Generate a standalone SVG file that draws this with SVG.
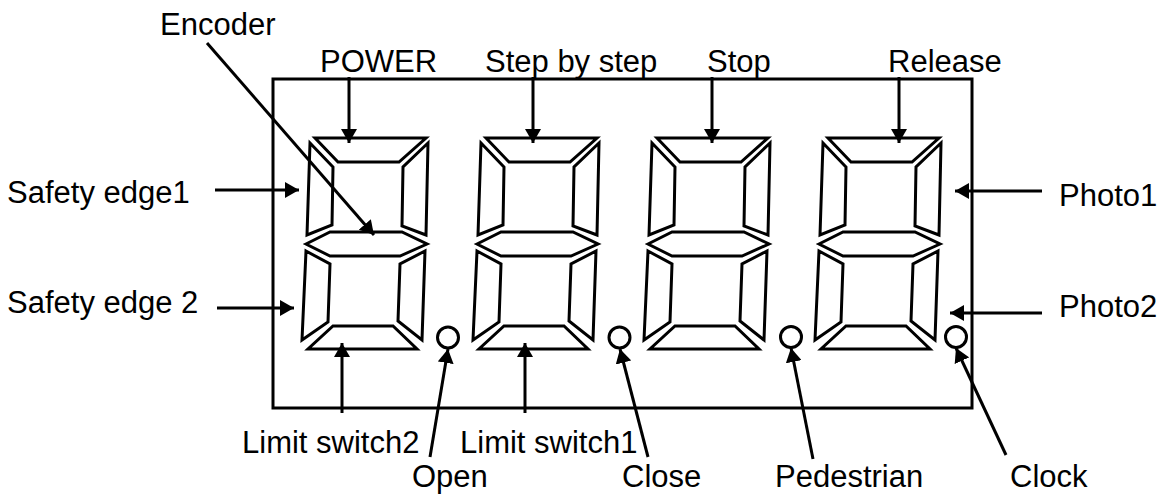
<svg xmlns="http://www.w3.org/2000/svg" xmlns:xlink="http://www.w3.org/1999/xlink" width="1164" height="494" viewBox="0 0 1164 494">
<style>
.seg{fill:none;stroke:#000;stroke-width:3;stroke-linejoin:miter;stroke-miterlimit:10}
.frame{fill:none;stroke:#000;stroke-width:3}
.dot{fill:none;stroke:#000;stroke-width:3}
.con{fill:none;stroke:#000;stroke-width:3;marker-end:url(#ah)}
.lbl{font-family:"Liberation Sans",Arial,sans-serif;font-size:31px;fill:#000}
</style>
<defs>
<marker id="ah" markerUnits="userSpaceOnUse" viewBox="0 0 14 16" markerWidth="14" markerHeight="16" refX="14" refY="8" orient="auto">
<path d="M0,0 L14,8 L0,16 Z" fill="#000"/>
</marker>
<g id="digit">
<polygon class="seg" points="315,138 426,138 399,162 338,162"/>
<polygon class="seg" points="310,143 333,167 332,225 307,235"/>
<polygon class="seg" points="428,143 426,235 402,226 403,167"/>
<polygon class="seg" points="306,244 330,232 402,232 427,244 400,256 330,256"/>
<polygon class="seg" points="306,251 330,264 328,322 302,340"/>
<polygon class="seg" points="425,251 422,340 398,321 400,264"/>
<polygon class="seg" points="308,349 417,349 393,326 333,326"/>
</g>
</defs>
<rect fill="#fff" x="0" y="0" width="1164" height="494"/>
<g id="frame"><rect class="frame" x="273" y="79" width="699" height="329"/></g>
<g id="digit1"><use xlink:href="#digit"/></g>
<g id="digit2"><use xlink:href="#digit" transform="translate(171,0)"/></g>
<g id="digit3"><use xlink:href="#digit" transform="translate(342,0)"/></g>
<g id="digit4"><use xlink:href="#digit" transform="translate(513,0)"/></g>
<g id="dot-open"><circle class="dot" cx="448" cy="337.5" r="10.5"/></g>
<g id="dot-close"><circle class="dot" cx="619.5" cy="337.5" r="10.5"/></g>
<g id="dot-pedestrian"><circle class="dot" cx="791" cy="337" r="10.5"/></g>
<g id="dot-clock"><circle class="dot" cx="956" cy="337" r="10.5"/></g>
<g id="connectors">
<line class="con" x1="207" y1="43" x2="374" y2="235"/>
<line class="con" x1="349" y1="77" x2="349" y2="143"/>
<line class="con" x1="533" y1="77" x2="533" y2="143"/>
<line class="con" x1="712" y1="77" x2="712" y2="143"/>
<line class="con" x1="899" y1="77" x2="899" y2="143"/>
<line class="con" x1="215" y1="190" x2="299" y2="190"/>
<line class="con" x1="217" y1="308" x2="294" y2="308"/>
<line class="con" x1="1042" y1="191" x2="955" y2="191"/>
<line class="con" x1="1042" y1="313" x2="950" y2="313"/>
<line class="con" x1="342" y1="413" x2="342" y2="343"/>
<line class="con" x1="525" y1="413" x2="525" y2="343"/>
<line class="con" x1="430" y1="457" x2="448" y2="349"/>
<line class="con" x1="648" y1="457" x2="620" y2="349"/>
<line class="con" x1="813" y1="459" x2="791" y2="348"/>
<line class="con" x1="1006" y1="455" x2="956" y2="348"/>
</g>
<g id="labels">
<text class="lbl" x="160" y="35">Encoder</text>
<text class="lbl" x="320" y="72">POWER</text>
<text class="lbl" x="485" y="72">Step by step</text>
<text class="lbl" x="707" y="72">Stop</text>
<text class="lbl" x="888" y="72">Release</text>
<text class="lbl" x="7" y="203">Safety edge1</text>
<text class="lbl" x="7" y="313">Safety edge 2</text>
<text class="lbl" x="1059" y="206">Photo1</text>
<text class="lbl" x="1059" y="317">Photo2</text>
<text class="lbl" x="242" y="453">Limit switch2</text>
<text class="lbl" x="460" y="453">Limit switch1</text>
<text class="lbl" x="412" y="487">Open</text>
<text class="lbl" x="622" y="487">Close</text>
<text class="lbl" x="775" y="487">Pedestrian</text>
<text class="lbl" x="1010" y="487">Clock</text>
</g>
</svg>
